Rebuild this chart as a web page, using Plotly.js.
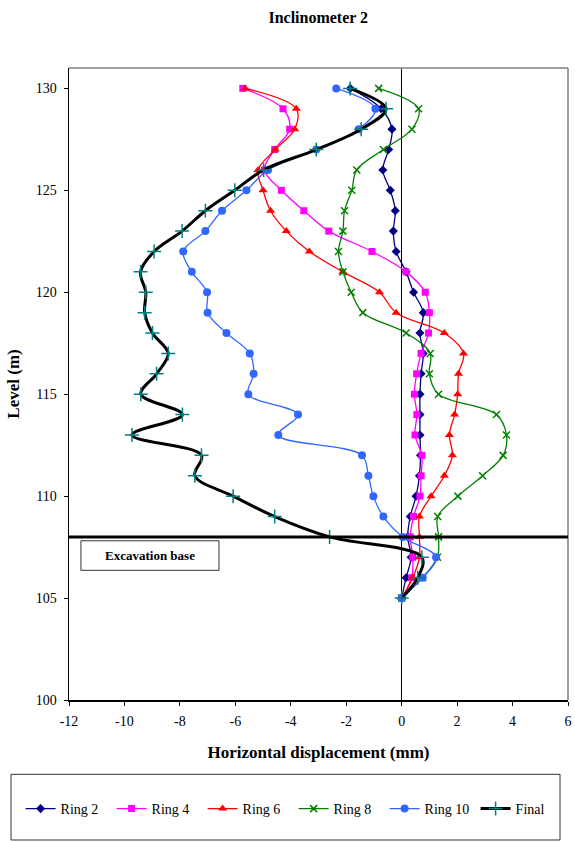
<!DOCTYPE html>
<html>
<head>
<meta charset="utf-8">
<script src="https://cdn.plot.ly/plotly-3.0.1.min.js"></script>
<style>html,body{margin:0;padding:0;background:#fff;}#chart{width:575px;height:842px;}</style>
</head>
<body>
<div id="chart"></div>
<script>
const levels = [130,129,128,127,126,125,124,123,122,121,120,119,118,117,116,115,114,113,112,111,110,109,108,107,106,105];
const ring2  = [-1.85,-0.74,-0.35,-0.47,-0.68,-0.41,-0.23,-0.30,-0.20,0.16,0.43,0.78,0.66,0.78,0.70,0.66,0.66,0.66,0.68,0.64,0.52,0.31,0.22,0.34,0.16,0];
const ring4  = [-5.73,-4.28,-4.04,-4.58,-4.95,-4.34,-3.53,-2.63,-1.07,0.16,0.85,1.00,0.97,0.70,0.54,0.46,0.55,0.48,0.73,0.70,0.66,0.43,0.31,0.40,0.36,0];
const ring6  = [-5.64,-3.80,-3.86,-4.56,-5.18,-5.00,-4.73,-4.16,-3.33,-2.12,-0.80,-0.20,1.54,2.23,2.05,2.02,1.91,1.72,1.83,1.54,1.06,0.64,0.64,0.64,0.40,0];
const ring8  = [-0.83,0.61,0.37,-0.66,-1.62,-1.80,-2.06,-2.12,-2.28,-2.12,-1.82,-1.40,0.16,1.03,1.00,1.33,3.42,3.78,3.66,2.92,2.03,1.30,1.33,1.29,0.75,0];
const ring10 = [-2.36,-0.95,-1.55,-3.08,-4.82,-5.60,-6.48,-7.08,-7.88,-7.57,-7.02,-7.00,-6.32,-5.48,-5.34,-5.53,-3.74,-4.45,-1.43,-1.20,-1.02,-0.66,0.04,1.24,0.76,0];
const finalD = [-1.86,-0.56,-1.46,-3.08,-4.98,-6.02,-7.08,-7.92,-8.93,-9.42,-9.23,-9.27,-8.99,-8.42,-8.84,-9.41,-7.91,-9.73,-7.22,-7.46,-6.08,-4.58,-2.60,0.73,0.58,0];
const xTickVals = [-12,-10,-8,-6,-4,-2,0,2,4,6];
const xTickText = ['-12','-10','-8','-6','-4','-2','0','2','4','6'];
const excavationLevel = 108;
const excavationLabel = 'Excavation base';

const FONT = 'Times New Roman, Liberation Serif, DejaVu Serif, serif';
function tr(name, xs, color, sym, size, lw, mline, mcolor) {
  return {
    type: 'scatter', mode: 'lines+markers', name: name,
    x: xs, y: levels,
    line: {color: color, width: lw, shape: 'spline', smoothing: 1},
    marker: {symbol: sym, size: size, color: mcolor || color,
             line: {color: mcolor || color, width: mline}},
    cliponaxis: false
  };
}
const data = [
  tr('Ring 2', ring2, '#000080', 'diamond', 7, 1.3, 0),
  tr('Ring 4', ring4, '#FF00FF', 'square', 7, 1.3, 0),
  tr('Ring 6', ring6, '#FF0000', 'triangle-up', 8, 1.3, 0),
  tr('Ring 8', ring8, '#008000', 'x-thin', 7, 1.3, 1.5),
  tr('Ring 10', ring10, '#3366FF', 'circle', 8, 1.3, 0),
  tr('Final', finalD, '#000000', 'cross-thin', 10, 3, 1.5, '#008080')
];

const layout = {
  width: 575, height: 842,
  margin: {l: 69, r: 7, t: 68, b: 142},
  paper_bgcolor: '#fff', plot_bgcolor: '#fff',
  font: {family: FONT, size: 14, color: '#000'},
  title: {text: '<b>Inclinometer 2</b>', font: {family: FONT, size: 16, color: '#000'},
          x: 0.5535, xref: 'container', y: 1 - 17/842, yref: 'container', yanchor: 'middle'},
  showlegend: true,
  legend: {orientation: 'h', x: -0.097, xanchor: 'left', y: -0.1725, yanchor: 'middle',
           font: {family: FONT, size: 14, color: '#000'}, bgcolor: 'rgba(0,0,0,0)',
           entrywidth: 46, entrywidthmode: 'pixels', tracegroupgap: 0, itemwidth: 30},
  xaxis: {range: [-12, 6], tickvals: xTickVals, ticktext: xTickText,
          showgrid: false, zeroline: true, zerolinecolor: '#000', zerolinewidth: 1,
          showline: true, linecolor: '#000', linewidth: 1.5, mirror: false,
          ticks: 'outside', ticklen: 4, tickcolor: '#000', tickwidth: 1,
          tickfont: {family: FONT, size: 14}, ticklabelstandoff: 4,
          title: {text: '<b>Horizontal displacement (mm)</b>', font: {family: FONT, size: 17}, standoff: 18}},
  yaxis: {range: [100, 131], tickvals: [100,105,110,115,120,125,130],
          showgrid: false, zeroline: false,
          showline: true, linecolor: '#000', linewidth: 1.5, mirror: false,
          ticks: 'outside', ticklen: 4, tickcolor: '#000', tickwidth: 1,
          tickfont: {family: FONT, size: 14}, ticklabelstandoff: 4,
          title: {text: '<b>Level (m)</b>', font: {family: FONT, size: 17}, standoff: 12}},
  shapes: [
    {type: 'line', xref: 'paper', yref: 'paper', x0: 0, x1: 1, y0: 1, y1: 1, line: {color: '#808080', width: 1.5}},
    {type: 'line', xref: 'paper', yref: 'paper', x0: 1, x1: 1, y0: 0, y1: 1, line: {color: '#808080', width: 1.5}},
    {type: 'line', xref: 'paper', yref: 'y', x0: 0, x1: 1, y0: excavationLevel, y1: excavationLevel, line: {color: '#000', width: 3}},
    {type: 'rect', xref: 'x', yref: 'y', x0: -11.57, x1: -6.59, y0: 106.36, y1: 107.81, line: {color: '#333', width: 1}, fillcolor: '#fff'},
    {type: 'rect', xref: 'paper', yref: 'paper', x0: -0.1162, x1: 0.984, y0: -0.1176, y1: -0.2215, line: {color: '#333', width: 1}}
  ],
  annotations: [
    {text: '<b>' + excavationLabel + '</b>', xref: 'x', yref: 'y', x: -9.08, y: 107.085,
     showarrow: false, font: {family: FONT, size: 13, color: '#000'}, xanchor: 'center', yanchor: 'middle'}
  ]
};
Plotly.newPlot('chart', data, layout, {staticPlot: true, displayModeBar: false});
</script>
</body>
</html>
